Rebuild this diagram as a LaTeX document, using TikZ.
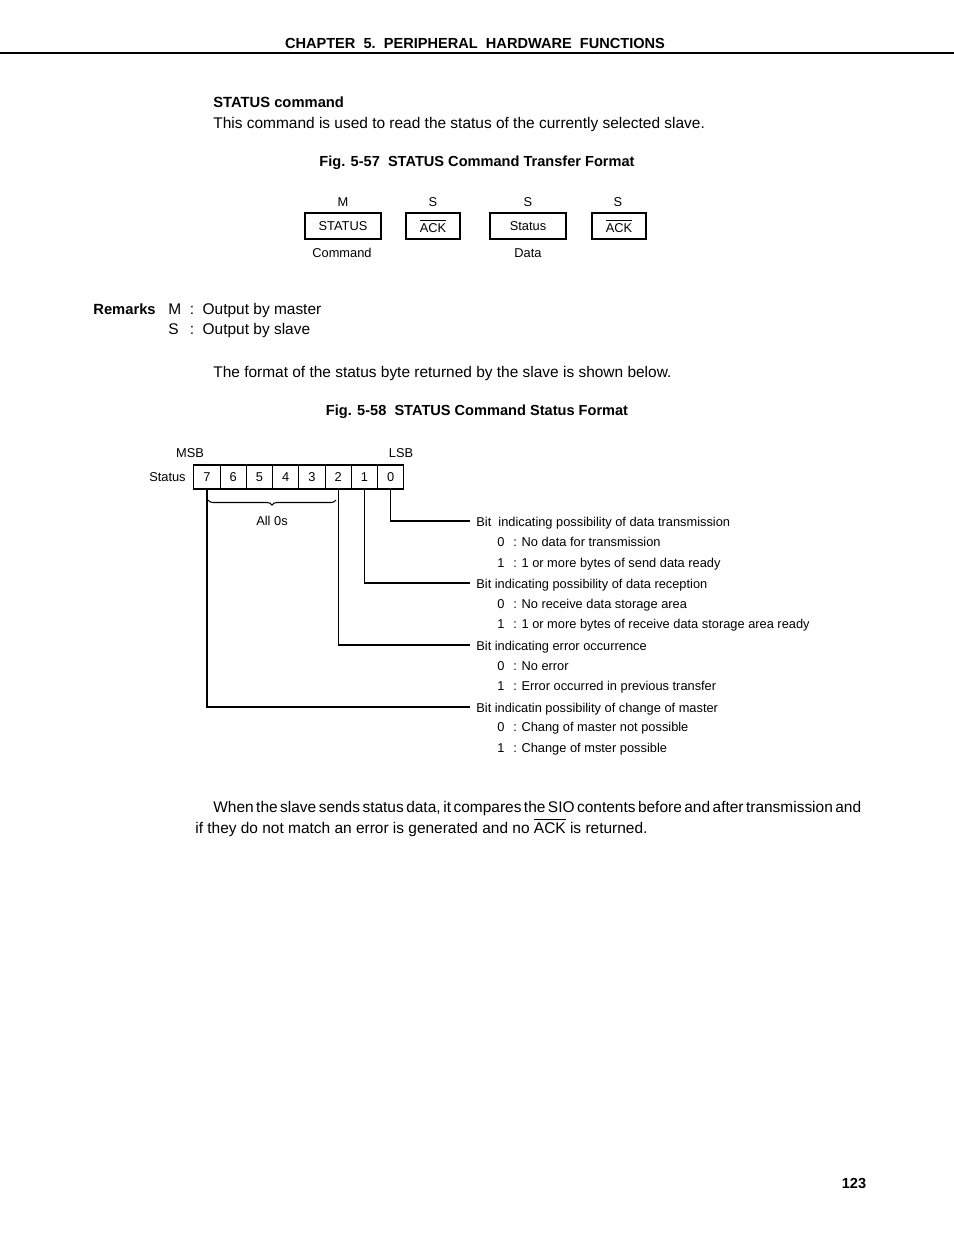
\documentclass[tikz,border=0pt]{standalone}
\usepackage{fontspec}
\setmainfont{Liberation Sans}
\usetikzlibrary{decorations.pathreplacing}
\newcommand{\ackbar}{$\overline{\mbox{ACK}}$}

\begin{document}
\begin{tikzpicture}[
  x=0.02cm, y=-0.02cm,
  body/.style={
    anchor=base west,
    inner sep=0pt,
    font=\fontsize{8.8}{11.9}\selectfont
  },
  bodyBold/.style={
    anchor=base west,
    inner sep=0pt,
    font=\fontsize{8.4}{11.9}\selectfont\bfseries
  },
  title/.style={
    anchor=base,
    inner sep=0pt,
    font=\fontsize{8.3}{10}\selectfont\bfseries
  },
  small/.style={
    inner sep=0pt,
    font=\fontsize{7.3}{9}\selectfont
  },
  field/.style={
    draw,
    line width=0.6pt,
    minimum height=0.52cm,
    inner sep=0pt,
    font=\fontsize{7.3}{9}\selectfont
  },
  cell/.style={
    draw,
    line width=0.6pt,
    minimum width=0.525cm,
    minimum height=0.48cm,
    inner sep=0pt,
    font=\fontsize{7.3}{9}\selectfont
  },
  bitText/.style={
    anchor=west,
    inner xsep=0.12cm, inner ysep=0pt,
    text height=1.5ex, text depth=0.25ex,
    font=\fontsize{7.3}{9}\selectfont
  },
  valText/.style={
    anchor=base west,
    inner sep=0pt,
    font=\fontsize{7.3}{9}\selectfont
  },
  leader/.style={line width=0.6pt}
]
  \useasboundingbox (0,0) rectangle (954,1235);

  \node[title] (chap) at (475,48) {CHAPTER\ \ 5.\ \ PERIPHERAL\ \ HARDWARE\ \ FUNCTIONS};
  \coordinate (ruleL) at (0,53);
  \coordinate (ruleR) at (954,53);
  \draw[line width=0.9pt] (ruleL) -- (ruleR);

  \node[bodyBold] (cmdHead) at (213,107) {STATUS command};
  \node[body] (cmdText) at (213,128) {This command is used to read the status of the currently selected slave.};

  \node[title] (fig57) at (477,166) {Fig. 5-57\ \ STATUS Command Transfer Format};

  \node[field, minimum width=1.52cm] (fStatus) at (343,226) {STATUS};
  \node[field, minimum width=1.08cm] (fAck1) at (433,226) {\ackbar};
  \node[field, minimum width=1.52cm] (fData) at (528,226) {Status};
  \node[field, minimum width=1.08cm] (fAck2) at (619,226) {\ackbar};

  \node[small] (oStatus) at (343,202) {M};
  \node[small] (oAck1) at (433,202) {S};
  \node[small] (oData) at (528,202) {S};
  \node[small] (oAck2) at (618,202) {S};
  \node[small] (uStatus) at (342,253) {Command};
  \node[small] (uData) at (528,253) {Data};

  \node[bodyBold] (remarks) at (93,314) {Remarks};
  \node[body] (remList) at (168,314)
    {\begin{tabular}[t]{@{}l@{\ \ }l@{\ \ }l@{}}
      M & : & Output by master\\
      S & : & Output by slave
    \end{tabular}};

  \node[body] (fmtText) at (213,377) {The format of the status byte returned by the slave is shown below.};

  \node[title] (fig58) at (477,415) {Fig. 5-58\ \ STATUS Command Status Format};

  \foreach \b [count=\i from 0] in {7,6,5,4,3,2,1,0}
    \node[cell] (b\b) at ({207+\i*26.25},477) {\b};

  \node[small] (msb) at (190,453) {MSB};
  \node[small] (lsb) at (401,453) {LSB};
  \node[small, anchor=east] (statusLbl) at (186,477) {Status};

  \coordinate (braceL) at (208,500);
  \coordinate (braceR) at (336,500);
  \draw[line width=0.6pt, decorate, decoration={brace, mirror, amplitude=0.1cm}] (braceL) -- (braceR);
  \node[small] (allZero) at (272,521) {All 0s};

  \node[bitText] (t0) at (470,521) {Bit\ \ indicating possibility of data transmission};
  \node[valText] (t0a) at (497,546) {0\hspace{5pt}: No data for transmission};
  \node[valText] (t0b) at (497,567) {1\hspace{5pt}: 1 or more bytes of send data ready};

  \node[bitText] (t1) at (470,583) {Bit indicating possibility of data reception};
  \node[valText] (t1a) at (497,608) {0\hspace{5pt}: No receive data storage area};
  \node[valText] (t1b) at (497,628) {1\hspace{5pt}: 1 or more bytes of receive data storage area ready};

  \node[bitText] (t2) at (470,645) {Bit indicating error occurrence};
  \node[valText] (t2a) at (497,670) {0\hspace{5pt}: No error};
  \node[valText] (t2b) at (497,690) {1\hspace{5pt}: Error occurred in previous transfer};

  \node[bitText] (t7) at (470,707) {Bit indicatin possibility of change of master};
  \node[valText] (t7a) at (497,731) {0\hspace{5pt}: Chang of master not possible};
  \node[valText] (t7b) at (497,752) {1\hspace{5pt}: Change of mster possible};

  \draw[leader] (b0.south) |- (t0.west);
  \draw[leader] (b1.south) |- (t1.west);
  \draw[leader] (b2.south) |- (t2.west);
  \draw[leader] (b7.south) |- (t7.west);

  \node[body] (endLine1) at (213,812) {\makebox[12.96cm][s]{\spaceskip=0.1em plus 1em\relax When the slave sends status data, it compares the SIO contents before and after transmission and}};
  \node[body] (endLine2) at (195,833) {if they do not match an error is generated and no \ackbar{} is returned.};

  \node[title] (pageNo) at (854,1188) {123};
\end{tikzpicture}
\end{document}
